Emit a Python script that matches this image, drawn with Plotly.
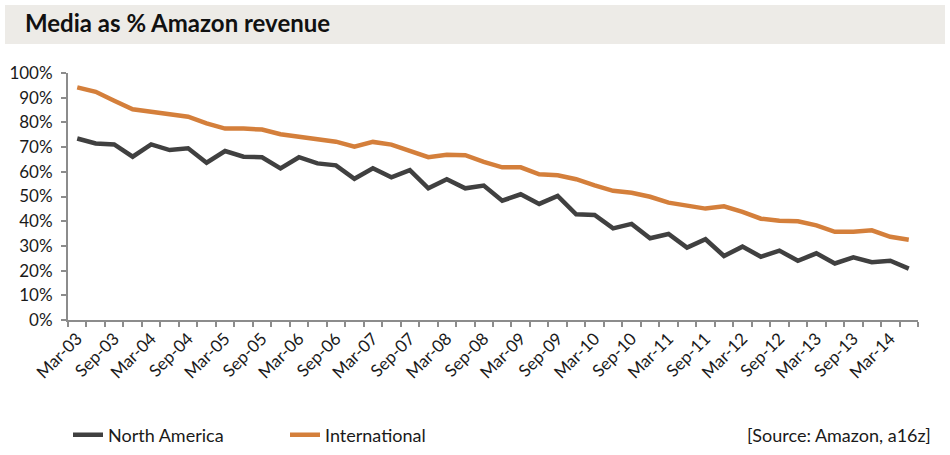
import plotly.graph_objects as go

quarters = [
    "Mar-03", "Jun-03", "Sep-03", "Dec-03",
    "Mar-04", "Jun-04", "Sep-04", "Dec-04",
    "Mar-05", "Jun-05", "Sep-05", "Dec-05",
    "Mar-06", "Jun-06", "Sep-06", "Dec-06",
    "Mar-07", "Jun-07", "Sep-07", "Dec-07",
    "Mar-08", "Jun-08", "Sep-08", "Dec-08",
    "Mar-09", "Jun-09", "Sep-09", "Dec-09",
    "Mar-10", "Jun-10", "Sep-10", "Dec-10",
    "Mar-11", "Jun-11", "Sep-11", "Dec-11",
    "Mar-12", "Jun-12", "Sep-12", "Dec-12",
    "Mar-13", "Jun-13", "Sep-13", "Dec-13",
    "Mar-14", "Jun-14",
]

north_america = [
    73.5, 71.5, 71.1, 66.1, 71.1, 68.8, 69.5, 63.7, 68.4, 66.1,
    65.9, 61.4, 65.9, 63.4, 62.6, 57.2, 61.4, 57.8, 60.7, 53.3,
    57.0, 53.3, 54.4, 48.3, 50.9, 47.0, 50.2, 42.8, 42.5, 37.1,
    38.9, 33.1, 34.8, 29.3, 32.7, 25.9, 29.7, 25.6, 28.1, 24.0,
    27.0, 22.9, 25.4, 23.4, 24.0, 20.8,
]

international = [
    94.2, 92.4, 88.8, 85.3, 84.3, 83.4, 82.3, 79.6, 77.5, 77.5,
    77.1, 75.2, 74.2, 73.1, 72.2, 70.2, 72.1, 71.0, 68.5, 65.9,
    66.9, 66.7, 64.0, 61.8, 61.8, 59.0, 58.6, 57.0, 54.5, 52.3,
    51.5, 49.9, 47.5, 46.3, 45.1, 46.0, 43.8, 41.0, 40.2, 40.0,
    38.3, 35.7, 35.7, 36.3, 33.7, 32.5,
]

y_ticks = [0, 10, 20, 30, 40, 50, 60, 70, 80, 90, 100]

FONT = "Lato"
n = len(quarters)
idx = list(range(n))

fig = go.Figure()
fig.add_trace(go.Scatter(x=idx, y=north_america, mode="lines", name="North America",
                         line=dict(color="#404040", width=4.5)))
fig.add_trace(go.Scatter(x=idx, y=international, mode="lines", name="International",
                         line=dict(color="#D47F3B", width=4.5)))

W, H = 950, 455
L, R, T, B = 68, 32, 73, 135
pw, ph = W - L - R, H - T - B

def px(xp):
    return (xp - L) / pw

def py(yp):
    return (H - B - yp) / ph

fig.update_layout(
    width=W, height=H,
    margin=dict(l=L, r=R, t=T, b=B, autoexpand=False),
    paper_bgcolor="white", plot_bgcolor="white",
    font=dict(family=FONT, size=17, color="#1a1a1a"),
    showlegend=True,
    legend=dict(orientation="h", x=px(68), y=py(435), xanchor="left", yanchor="middle",
                entrywidth=172, entrywidthmode="pixels",
                font=dict(family=FONT, size=18, color="#1a1a1a"), bgcolor="rgba(0,0,0,0)"),
    title=dict(text="<b>Media as % Amazon revenue</b>", x=25 / W, y=1 - 24 / H,
               xref="container", yref="container", xanchor="left", yanchor="middle",
               font=dict(family=FONT, size=24, color="#111111")),
    shapes=[dict(type="rect", xref="paper", yref="paper",
                 x0=px(5), x1=px(945), y0=py(44), y1=py(5),
                 fillcolor="#EDEBE7", line=dict(width=0), layer="below")],
    annotations=[dict(text="[Source: Amazon, a16z]", xref="paper", yref="paper",
                      x=px(933), y=py(435), xanchor="right", yanchor="middle",
                      showarrow=False, font=dict(family=FONT, size=18, color="#1a1a1a"))],
)

fig.update_xaxes(
    range=[-0.5, n - 0.5], automargin=False,
    tickmode="array", tickvals=idx[::2], ticktext=quarters[::2],
    tickangle=-45, ticks="", showgrid=False, zeroline=False,
    showline=True, linecolor="#8c8c8c", linewidth=2,
    tickfont=dict(family=FONT, size=17, color="#1a1a1a"),
    minor=dict(tickmode="array", tickvals=[i - 0.5 for i in range(n + 1)],
               ticks="outside", ticklen=5, tickwidth=1.5, tickcolor="#8c8c8c", showgrid=False),
)
fig.update_yaxes(
    range=[0, 100], automargin=False, tickmode="array", tickvals=y_ticks,
    ticktext=[f"{v}%" for v in y_ticks],
    ticks="outside", ticklen=5, tickwidth=1.5, tickcolor="#8c8c8c",
    ticklabelstandoff=5,
    showgrid=False, zeroline=False,
    showline=True, linecolor="#8c8c8c", linewidth=2,
    tickfont=dict(family=FONT, size=17, color="#1a1a1a"),
)

fig.write_html("out.html", config={"displayModeBar": False},
               post_script="document.body.style.margin='0px';")
